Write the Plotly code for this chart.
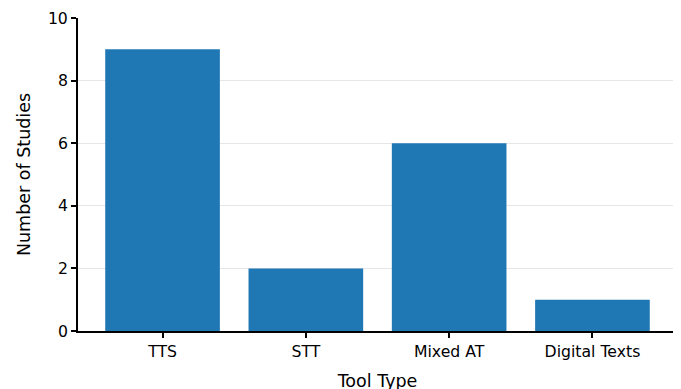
import plotly.graph_objects as go

categories = ["TTS", "STT", "Mixed AT", "Digital Texts"]
studies = [9, 2, 6, 1]
y_ticks = [0, 2, 4, 6, 8, 10]

fig = go.Figure(go.Bar(
    x=list(range(len(categories))), y=studies, width=0.8,
    marker=dict(color="#1f77b4", line=dict(width=0)),
))

fig.update_layout(
    width=681, height=389,
    margin=dict(l=70, r=12, t=10, b=66, autoexpand=False),
    plot_bgcolor="white", paper_bgcolor="white",
    font=dict(family="DejaVu Sans", size=15.7, color="black"),
    showlegend=False,
)
fig.update_xaxes(
    range=[-0.59, 3.59], tickmode="array",
    tickvals=list(range(len(categories))), ticktext=categories,
    showline=True, linecolor="black", linewidth=2,
    ticks="outside", ticklen=5, tickwidth=1.5, tickcolor="black",
    showgrid=False, zeroline=False,
    title=dict(text="Tool Type", font=dict(size=17.5), standoff=15),
)
fig.update_yaxes(
    range=[0, 10], tickmode="array", tickvals=y_ticks,
    showline=True, linecolor="black", linewidth=2,
    ticks="outside", ticklen=5, tickwidth=1.5, tickcolor="black",
    showgrid=True, gridcolor="#e6e6e6", gridwidth=1, zeroline=False,
    title=dict(text="Number of Studies", font=dict(size=17.5), standoff=13),
)

fig.write_html("out.html")
